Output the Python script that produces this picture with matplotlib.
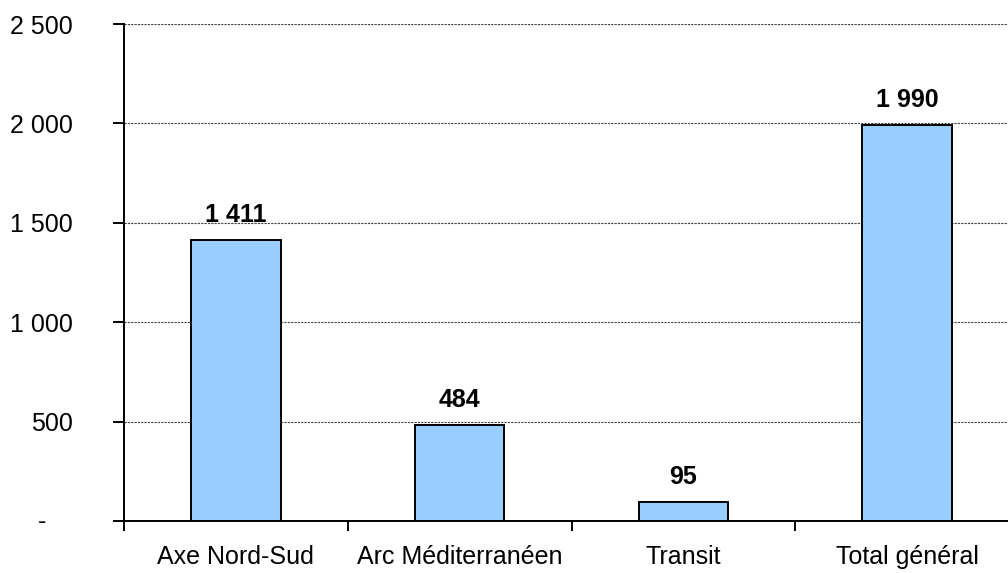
import matplotlib
matplotlib.use("Agg")
import matplotlib.pyplot as plt
from matplotlib.ticker import FuncFormatter

plt.rcParams['font.family'] = ['Liberation Sans', 'DejaVu Sans']

categories = ["Axe Nord-Sud", "Arc Méditerranéen", "Transit", "Total général"]
values = [1411, 484, 95, 1990]
y_ticks = [0, 500, 1000, 1500, 2000, 2500]


def fmt_fr(v, pos=None):
    if v == 0:
        return ""
    return f"{int(v):,}".replace(",", " ")


fig = plt.figure(figsize=(10.08, 5.73), dpi=100)
ax = fig.add_axes([124 / 1008, 52 / 573, 895 / 1008, 497 / 573])

x = range(len(categories))
ax.bar(x, values, width=0.40, color="#99CCFF", edgecolor="black", linewidth=1.4, zorder=3)

for xi, v in zip(x, values):
    ax.annotate(fmt_fr(v), (xi, v), xytext=(0, 13), textcoords="offset points",
                ha="center", va="baseline", fontsize=18, fontweight="bold")

ax.set_xlim(-0.5, 3.5)
ax.set_ylim(0, 2500)
ax.set_yticks(y_ticks)
ax.yaxis.set_major_formatter(FuncFormatter(fmt_fr))
ax.yaxis.grid(True, color="#444444", linestyle=(0, (2, 1)), linewidth=0.8, zorder=0)

# zero is shown as a dash, set further left like the accounting format
ax.annotate("-", (0, 0), xycoords="axes fraction", xytext=(-59, -1),
            textcoords="offset points", ha="center", va="center", fontsize=18)

# category labels centred, ticks at the boundaries
ax.set_xticks([i - 0.5 for i in range(len(categories) + 1)])
ax.set_xticklabels([])
ax.set_xticks(list(x), minor=True)
ax.set_xticklabels(categories, minor=True)
ax.tick_params(axis="x", which="minor", length=0, pad=17, labelsize=18)
ax.tick_params(axis="x", which="major", direction="out", length=7, width=1.4)
ax.tick_params(axis="y", direction="out", length=8, width=1.4, pad=29, labelsize=18)

for lbl in ax.get_yticklabels():
    lbl.set_horizontalalignment("right")

ax.spines["top"].set_visible(False)
ax.spines["right"].set_visible(False)
ax.spines["left"].set_linewidth(1.4)
ax.spines["bottom"].set_linewidth(1.4)

fig.savefig("out.png", dpi=100)
